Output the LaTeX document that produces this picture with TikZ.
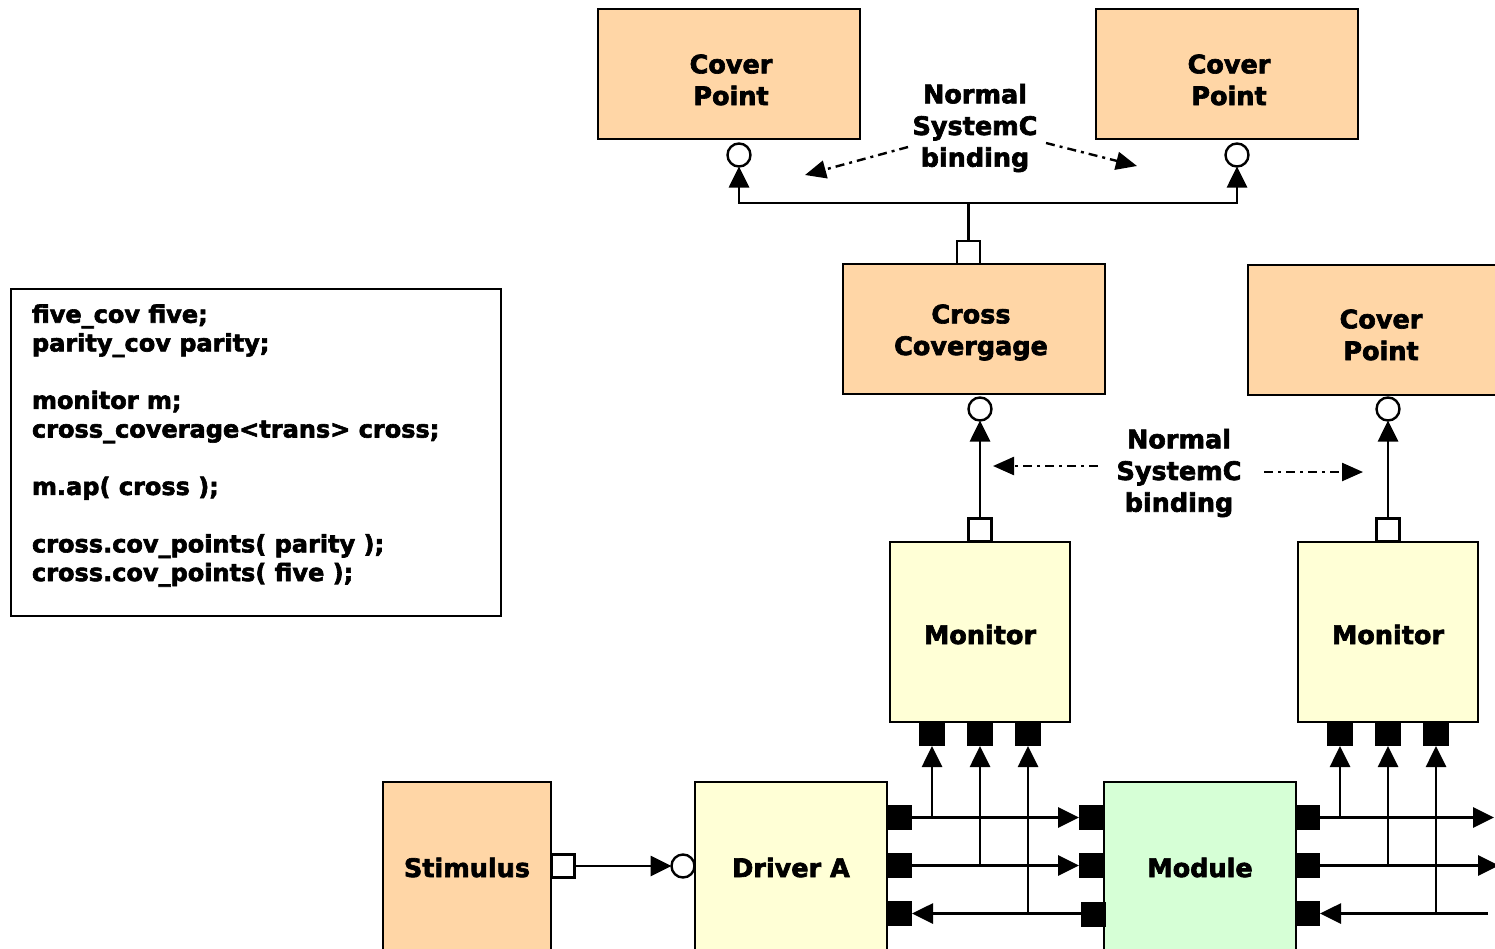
\documentclass[tikz,border=0pt]{standalone}
\usepackage{fontspec}
\setmainfont{DejaVu Sans}[BoldFeatures={FakeBold=2.5}]
\usetikzlibrary{arrows.meta}
\definecolor{peach}{RGB}{255,214,166}
\definecolor{paleyel}{RGB}{255,255,214}
\definecolor{palegrn}{RGB}{214,255,214}
\begin{document}
\begin{tikzpicture}[x=1pt,y=-1pt,
  blk/.style={draw=black, line width=2.6pt, inner sep=0pt, outer sep=0pt},
  lbl/.style={inner sep=0pt, outer sep=0pt, align=center, font=\fontsize{25.5}{31.7}\selectfont\bfseries},
  codetxt/.style={inner sep=0pt, outer sep=0pt, align=left, font=\fontsize{24}{28.7}\selectfont\bfseries},
  opensq/.style={draw=black, fill=white, line width=2.4pt, inner sep=0pt, outer sep=0pt, minimum size=23pt},
  blacksq/.style={fill=black, inner sep=0pt, outer sep=0pt, minimum width=25pt, minimum height=25pt},
  sock/.style={circle, draw=black, fill=white, line width=2.4pt, inner sep=0pt, outer sep=0pt, minimum size=23pt},
  wire/.style={line width=2.8pt},
  arr/.style={line width=2.8pt, -{Triangle[length=21pt,width=20pt]}},
  bind/.style={line width=2.4pt, dash pattern=on 9pt off 5pt on 3pt off 5pt, -{Triangle[length=21pt,width=18pt]}}
]
\useasboundingbox (0,0) rectangle (1495,948);
\clip (0,0) rectangle (1495,948);

% boxes
\node[blk, fill=peach, minimum width=262pt, minimum height=130pt] (cp1) at (729,74) {};
\node[blk, fill=peach, minimum width=262pt, minimum height=130pt] (cp2) at (1227,74) {};
\node[blk, fill=peach, minimum width=262pt, minimum height=130pt] (cross) at (974,329) {};
\node[blk, fill=peach, minimum width=266pt, minimum height=130pt] (cp3) at (1381,330) {};
\node[blk, fill=paleyel, minimum width=180pt, minimum height=180pt] (mon1) at (980,632) {};
\node[blk, fill=paleyel, minimum width=180pt, minimum height=180pt] (mon2) at (1388,632) {};
\node[blk, fill=peach, minimum width=168pt, minimum height=172pt] (stim) at (467,868) {};
\node[blk, fill=paleyel, minimum width=192pt, minimum height=172pt] (drv) at (791,868) {};
\node[blk, fill=palegrn, minimum width=192pt, minimum height=172pt] (mod) at (1200,868) {};
\node[blk, fill=white, minimum width=490pt, minimum height=327pt] (code) at (256,452.5) {};

% labels
\node[lbl, anchor=north] (cp1t) at (731,54.4) {Cover\\Point};
\node[lbl, anchor=north] (cp2t) at (1229,54.4) {Cover\\Point};
\node[lbl, anchor=north] (crosst) at (971,304.4) {Cross\\Covergage};
\node[lbl, anchor=north] (cp3t) at (1381,309.4) {Cover\\Point};
\node[lbl, anchor=north] (norm1) at (975,83.9) {Normal\\SystemC\\binding};
\node[lbl, anchor=north] (norm2) at (1179,428.9) {Normal\\SystemC\\binding};
\node[lbl, anchor=base] (mon1t) at (980,644) {Monitor};
\node[lbl, anchor=base] (mon2t) at (1388,644) {Monitor};
\node[lbl, anchor=base] (stimt) at (467,877) {Stimulus};
\node[lbl, anchor=base] (drvt) at (791,877) {Driver A};
\node[lbl, anchor=base] (modt) at (1200,877) {Module};
\node[codetxt, anchor=north west] (codet) at (32,304.5) {five\_cov five;\\parity\_cov parity;\\[28.7pt]monitor m;\\cross\_coverage<trans> cross;\\[28.7pt]m.ap( cross );\\[28.7pt]cross.cov\_points( parity );\\cross.cov\_points( five );};

% ports
\node[opensq] (xsq) at (968.5,252.5) {};
\node[sock] (c1) at (739,155) {};
\node[sock] (c2) at (1237,155) {};
\node[sock] (c3) at (980,409) {};
\node[sock] (c4) at (1388,409) {};
\node[opensq] (msqA) at (980,530) {};
\node[opensq] (msqB) at (1388,530) {};
\node[opensq] (ss) at (563,866) {};
\node[sock] (dc) at (683,866) {};
\node[blacksq, minimum width=26pt, minimum height=24pt] (mb1) at (932,734) {};
\node[blacksq, minimum width=26pt, minimum height=24pt] (mb2) at (980,734) {};
\node[blacksq, minimum width=26pt, minimum height=24pt] (mb3) at (1028,734) {};
\node[blacksq, minimum width=26pt, minimum height=24pt] (mb4) at (1340,734) {};
\node[blacksq, minimum width=26pt, minimum height=24pt] (mb5) at (1388,734) {};
\node[blacksq, minimum width=26pt, minimum height=24pt] (mb6) at (1436,734) {};
\node[blacksq] (d1) at (899.5,817.5) {};
\node[blacksq] (d2) at (899.5,865.5) {};
\node[blacksq] (d3) at (899.5,913.5) {};
\node[blacksq] (ml1) at (1091.5,817.5) {};
\node[blacksq] (ml2) at (1091.5,865.5) {};
\node[blacksq] (ml3) at (1093,914) {};
\node[blacksq, minimum width=24pt] (mr1) at (1308,817.5) {};
\node[blacksq, minimum width=24pt] (mr2) at (1308,865.5) {};
\node[blacksq, minimum width=24pt] (mr3) at (1308,913.5) {};

% free ends
\coordinate (bus) at (968.5,203);
\coordinate (b1s) at (908,147);
\coordinate (b1e) at (805,175);
\coordinate (b2s) at (1046,143);
\coordinate (b2e) at (1137,166);
\coordinate (b3s) at (1098,466);
\coordinate (b3e) at (993,466);
\coordinate (b4s) at (1264,472);
\coordinate (b4e) at (1363,472);
\coordinate (o1) at (1494,817.5);
\coordinate (o2) at (1499,865.5);
\coordinate (i3) at (1488,913.5);

% connectors
\draw[wire] (xsq.north) -- (bus);
\draw[arr] (bus) -| (c1.south);
\draw[arr] (bus) -| (c2.south);
\draw[arr] (msqA.north) -- (c3.south);
\draw[arr] (msqB.north) -- (c4.south);
\draw[bind] (b1s) -- (b1e);
\draw[bind] (b2s) -- (b2e);
\draw[bind] (b3s) -- (b3e);
\draw[bind] (b4s) -- (b4e);
\draw[arr] (ss.east) -- (dc.west);

\draw[arr] (d1.east) -- (ml1.west);
\draw[arr] (d2.east) -- (ml2.west);
\draw[arr] (ml3.west |- d3.east) -- (d3.east);
\draw[arr] (d1.east -| mb1.south) -- (mb1.south);
\draw[arr] (d2.east -| mb2.south) -- (mb2.south);
\draw[arr] (d3.east -| mb3.south) -- (mb3.south);

\draw[arr] (mr1.east) -- (o1);
\draw[arr] (mr2.east) -- (o2);
\draw[arr] (i3) -- (mr3.east);
\draw[arr] (mr1.east -| mb4.south) -- (mb4.south);
\draw[arr] (mr2.east -| mb5.south) -- (mb5.south);
\draw[arr] (mr3.east -| mb6.south) -- (mb6.south);
\end{tikzpicture}
\end{document}
